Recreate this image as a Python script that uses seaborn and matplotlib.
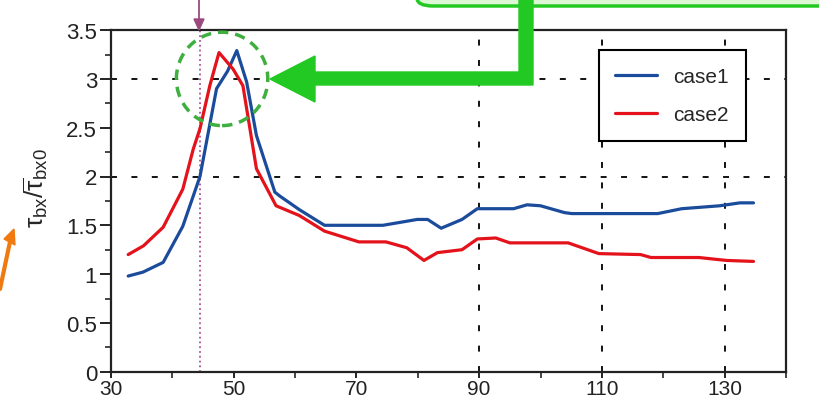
import matplotlib

matplotlib.use("Agg")

import matplotlib.pyplot as plt  # noqa: E402
import pandas as pd  # noqa: E402
import seaborn as sns  # noqa: E402
from matplotlib.patches import Ellipse, FancyBboxPatch, Polygon  # noqa: E402
from matplotlib.ticker import FuncFormatter, MultipleLocator  # noqa: E402

# values
case1_x = [32.8, 35.2, 38.5, 41.7, 44.5, 47.2, 49.0, 50.5, 52.1, 53.7, 55.3, 56.7,
           57.5, 60.7, 64.8, 74.3, 79.9, 81.6, 83.8, 87.2, 89.7, 95.6, 97.8,
           100.0, 103.9, 105.1, 119.1, 123.0, 129.2, 132.5, 134.7]
case1_y = [0.98, 1.02, 1.12, 1.49, 2.00, 2.90, 3.08, 3.29, 2.97, 2.42, 2.11, 1.84,
           1.80, 1.66, 1.50, 1.50, 1.56, 1.56, 1.47, 1.56, 1.67, 1.67, 1.71,
           1.70, 1.63, 1.62, 1.62, 1.67, 1.70, 1.73, 1.73]
case2_x = [32.8, 35.3, 38.5, 41.7, 43.4, 44.5, 46.1, 47.6, 49.9, 51.5, 53.7, 56.9,
           60.7, 64.8, 70.4, 74.8, 78.2, 81.0, 83.2, 87.2, 89.7, 92.7, 95.0,
           104.5, 109.5, 116.3, 118.0, 125.8, 130.3, 134.7]
case2_y = [1.20, 1.29, 1.48, 1.87, 2.28, 2.49, 2.93, 3.27, 3.10, 2.93, 2.08, 1.70,
           1.60, 1.44, 1.33, 1.33, 1.27, 1.14, 1.22, 1.25, 1.36, 1.37, 1.32,
           1.32, 1.21, 1.20, 1.17, 1.17, 1.14, 1.13]
series_names = ["case1", "case2"]
grid_y = [2, 3]
grid_x = [90, 110, 130]
marker_x = 44.5

BLUE = "#1b4c9c"
RED = "#e3121b"
GREEN = "#22c922"

df = pd.concat([
    pd.DataFrame({"x": case1_x, "y": case1_y, "case": series_names[0]}),
    pd.DataFrame({"x": case2_x, "y": case2_y, "case": series_names[1]}),
])

sns.set_style("ticks")
plt.rcParams["font.family"] = ["Liberation Sans", "DejaVu Sans"]
plt.rcParams["mathtext.fontset"] = "custom"
plt.rcParams["mathtext.rm"] = "Liberation Sans"
plt.rcParams["mathtext.it"] = "Liberation Sans"

W, H = 820, 406
fig = plt.figure(figsize=(W / 100, H / 100), dpi=100)
ax = fig.add_axes([111 / W, (H - 372.7) / H, 675 / W, 341.6 / H])


def px(x, y):
    return (x / W, 1 - y / H)


grid_ls = (0, (3.3, 8.0))
for gy in grid_y:
    ax.axhline(gy, color="black", lw=1.3, ls=grid_ls, zorder=1)
for gx in grid_x:
    ax.axvline(gx, color="black", lw=1.3, ls=grid_ls, zorder=1)
ax.axvline(marker_x, color="#b0509a", lw=1.3, ls=":", zorder=1)

sns.lineplot(data=df, x="x", y="y", hue="case", palette=[BLUE, RED],
             estimator=None, sort=False, lw=2.3, ax=ax, zorder=3)

ax.set_xlim(30, 140)
ax.set_ylim(0, 3.5)
ax.xaxis.set_major_locator(MultipleLocator(20))
ax.xaxis.set_minor_locator(MultipleLocator(10))
ax.yaxis.set_major_locator(MultipleLocator(0.5))
ax.yaxis.set_minor_locator(MultipleLocator(0.25))
ax.yaxis.set_major_formatter(FuncFormatter(lambda v, p: f"{v:g}"))
ax.set_xticks([30, 50, 70, 90, 110, 130])
ax.tick_params(which="major", width=1.4, labelsize=16, colors="#222222")
ax.tick_params(axis="y", which="major", length=8, pad=2)
ax.tick_params(axis="y", which="minor", length=4, width=1.2)
ax.tick_params(axis="x", which="major", length=4.5, pad=0.5, labelsize=15)
ax.tick_params(axis="x", which="minor", length=4, width=1.2)
for s in ax.spines.values():
    s.set_linewidth(1.6)
    s.set_color("#222222")

ax.set_xlabel("")
ax.set_ylabel(r"$\tau_{bx}/\overline{\tau}_{bx0}$", fontsize=19)
ax.yaxis.set_label_coords(-0.09, 0.54)

ax.legend(loc="upper right", bbox_to_anchor=(0.956, 0.971), fontsize=15,
          frameon=True, fancybox=False, edgecolor="black", framealpha=1,
          handlelength=2.0, handletextpad=0.8, labelspacing=0.9, borderpad=0.8,
          title=None)
ax.get_legend().get_frame().set_linewidth(1.5)
for line in ax.get_legend().get_lines():
    line.set_linewidth(2.3)

# dashed circle around the peaks
ax.add_patch(Ellipse((48.1, 3.0), 14.9, 0.957, fill=False, ec="#3fb03f",
                     lw=2.5, ls=(0, (3, 2)), clip_on=False, zorder=4))

# green callout box (cut off at the top) and arrow
fig.add_artist(FancyBboxPatch(px(417, 7), (W + 40 - 417) / W, 40 / H,
                              boxstyle="round,pad=0,rounding_size=0.02",
                              transform=fig.transFigure, fc="#dcf7d4",
                              ec=GREEN, lw=2.5, clip_on=False))
arrow = [px(519, 0), px(533, 0), px(533, 86), px(315, 86), px(315, 103),
         px(270, 80), px(315, 57), px(315, 73), px(519, 73)]
fig.add_artist(Polygon(arrow, closed=True, transform=fig.transFigure,
                       fc=GREEN, ec=GREEN, lw=1))

# magenta pointer above the dotted line
fig.add_artist(plt.Line2D([199 / W, 199 / W], [1 - 0 / H, 1 - 22 / H],
                          transform=fig.transFigure, color="#9a4a80", lw=1.3))
fig.add_artist(Polygon([px(194, 20), px(204, 20), px(199, 31)], closed=True,
                       transform=fig.transFigure, fc="#9a4a80", ec="#9a4a80"))

# orange arrow fragment at the left edge
fig.add_artist(plt.Line2D([0 / W, 11 / W], [1 - 290 / H, 1 - 238 / H],
                          transform=fig.transFigure, color="#f07a10", lw=3))
fig.add_artist(Polygon([px(4, 240), px(14, 230), px(15, 246)], closed=True,
                       transform=fig.transFigure, fc="#f07a10", ec="#f07a10"))

fig.savefig("out.png", dpi=100)
